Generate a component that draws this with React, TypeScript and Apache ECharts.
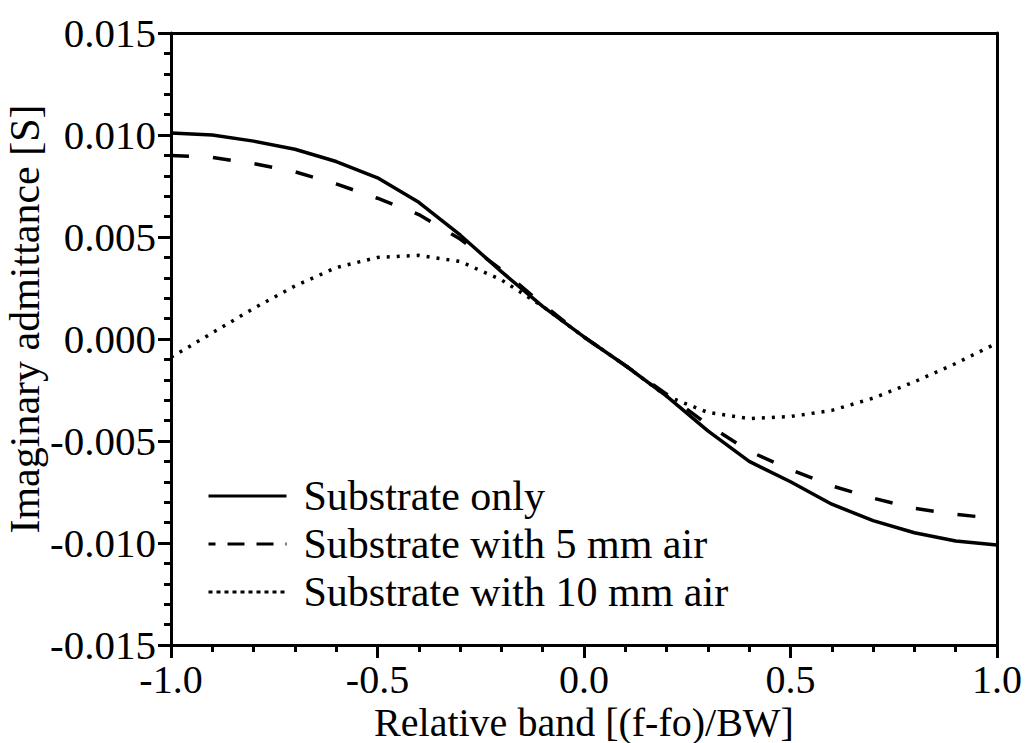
import React, { useEffect, useRef } from "react";
import * as echarts from "echarts";

const xValues = [-1.0, -0.9, -0.8, -0.7, -0.6, -0.5, -0.4, -0.3, -0.2, -0.1, 0.0, 0.1, 0.2, 0.3, 0.4, 0.5, 0.6, 0.7, 0.8, 0.9, 1.0];
const substrateOnly = [0.0101, 0.0100, 0.0097, 0.0093, 0.0087, 0.0079, 0.0067, 0.0051, 0.0033, 0.0016, 0.0001, -0.0013, -0.0028, -0.0045, -0.0060, -0.0070, -0.0081, -0.0089, -0.0095, -0.0099, -0.0101];
const air5mm = [0.0090, 0.0089, 0.0086, 0.0082, 0.0076, 0.0069, 0.0061, 0.0049, 0.0034, 0.0017, 0.0001, -0.0013, -0.0027, -0.0042, -0.0055, -0.0064, -0.0072, -0.0078, -0.0083, -0.0086, -0.0088];
const air10mm = [-0.0009, 0.0003, 0.0015, 0.0026, 0.0035, 0.0040, 0.0041, 0.0038, 0.0029, 0.0016, 0.0001, -0.0013, -0.0028, -0.0036, -0.0039, -0.0038, -0.0035, -0.0029, -0.0021, -0.0012, -0.0002];
const seriesNames = ["Substrate only", "Substrate with 5 mm air", "Substrate with 10 mm air"];
const xTitle = "Relative band [(f-fo)/BW]";
const yTitle = "Imaginary admittance [S]";

const FONT = "Liberation Serif";

export default function App() {
  const ref = useRef<HTMLDivElement>(null);
  useEffect(() => {
    if (!ref.current) return;
    const chart = echarts.init(ref.current, undefined, { renderer: "svg" });
    const pair = (ys: number[]) => xValues.map((x, i) => [x, ys[i]]);
    const lineBase = { type: "line", showSymbol: false, symbol: "none", smooth: false };
    const dashed = [18, 24];
    const dotted = [3, 7];
    chart.setOption({
      animation: false,
      backgroundColor: "#ffffff",
      grid: { left: 171, right: 31, top: 33, bottom: 98, containLabel: false, outerBoundsMode: "none" },
      legend: {
        orient: "vertical",
        left: 202,
        top: 470,
        itemWidth: 78,
        itemHeight: 14,
        itemGap: 6,
        itemStyle: { opacity: 0 },
        textStyle: { fontFamily: FONT, fontSize: 42, color: "#000", padding: [0, 0, 0, 12] },
        data: [
          { name: seriesNames[0], lineStyle: { color: "#000", width: 3, type: "solid" } },
          { name: seriesNames[1], lineStyle: { color: "#000", width: 3, type: [17, 12], dashOffset: 10 } },
          { name: seriesNames[2], lineStyle: { color: "#000", width: 3, type: [4, 4] } },
        ],
      },
      xAxis: [
        {
          type: "value",
          min: -1,
          max: 1,
          interval: 0.5,
          position: "bottom",
          name: xTitle,
          nameLocation: "middle",
          nameGap: 57,
          nameMoveOverlap: false,
          nameTextStyle: { fontFamily: FONT, fontSize: 40, color: "#000", lineHeight: 40 },
          axisLine: { show: true, onZero: false, lineStyle: { color: "#000", width: 3 } },
          axisTick: { show: true, inside: false, length: 13, lineStyle: { color: "#000", width: 3 } },
          minorTick: { show: true, splitNumber: 5, length: 7, lineStyle: { color: "#000", width: 3 } },
          splitLine: { show: false },
          axisLabel: { fontFamily: FONT, fontSize: 40, lineHeight: 38, color: "#000", margin: 15, formatter: (v: number) => v.toFixed(1) },
        },
        {
          type: "value",
          min: -1,
          max: 1,
          position: "top",
          axisLine: { show: true, onZero: false, lineStyle: { color: "#000", width: 3 } },
          axisTick: { show: false },
          axisLabel: { show: false },
          splitLine: { show: false },
        },
      ],
      yAxis: [
        {
          type: "value",
          min: -0.015,
          max: 0.015,
          interval: 0.005,
          position: "left",
          name: yTitle,
          nameLocation: "middle",
          nameGap: 125,
          nameMoveOverlap: false,
          nameTextStyle: { fontFamily: FONT, fontSize: 42, color: "#000", lineHeight: 42, padding: [0, 0, 0, 40] },
          axisLine: { show: true, onZero: false, lineStyle: { color: "#000", width: 3 } },
          axisTick: { show: true, inside: false, length: 13, lineStyle: { color: "#000", width: 3 } },
          minorTick: { show: true, splitNumber: 5, length: 7, lineStyle: { color: "#000", width: 3 } },
          splitLine: { show: false },
          axisLabel: { fontFamily: FONT, fontSize: 41, color: "#000", margin: 15, formatter: (v: number) => v.toFixed(3) },
        },
        {
          type: "value",
          min: -0.015,
          max: 0.015,
          position: "right",
          axisLine: { show: true, onZero: false, lineStyle: { color: "#000", width: 3 } },
          axisTick: { show: false },
          axisLabel: { show: false },
          splitLine: { show: false },
        },
      ],
      series: [
        { ...lineBase, name: seriesNames[0], data: pair(substrateOnly), lineStyle: { color: "#000", width: 3.5, type: "solid" }, itemStyle: { color: "#000" } },
        { ...lineBase, name: seriesNames[1], data: pair(air5mm), lineStyle: { color: "#000", width: 3.5, type: dashed }, itemStyle: { color: "#000" } },
        { ...lineBase, name: seriesNames[2], data: pair(air10mm), lineStyle: { color: "#000", width: 3.5, type: dotted }, itemStyle: { color: "#000" } },
      ],
    });
    return () => chart.dispose();
  }, []);
  return <div ref={ref} style={{ position: "fixed", left: 0, top: 0, width: 1028, height: 743 }} />;
}
